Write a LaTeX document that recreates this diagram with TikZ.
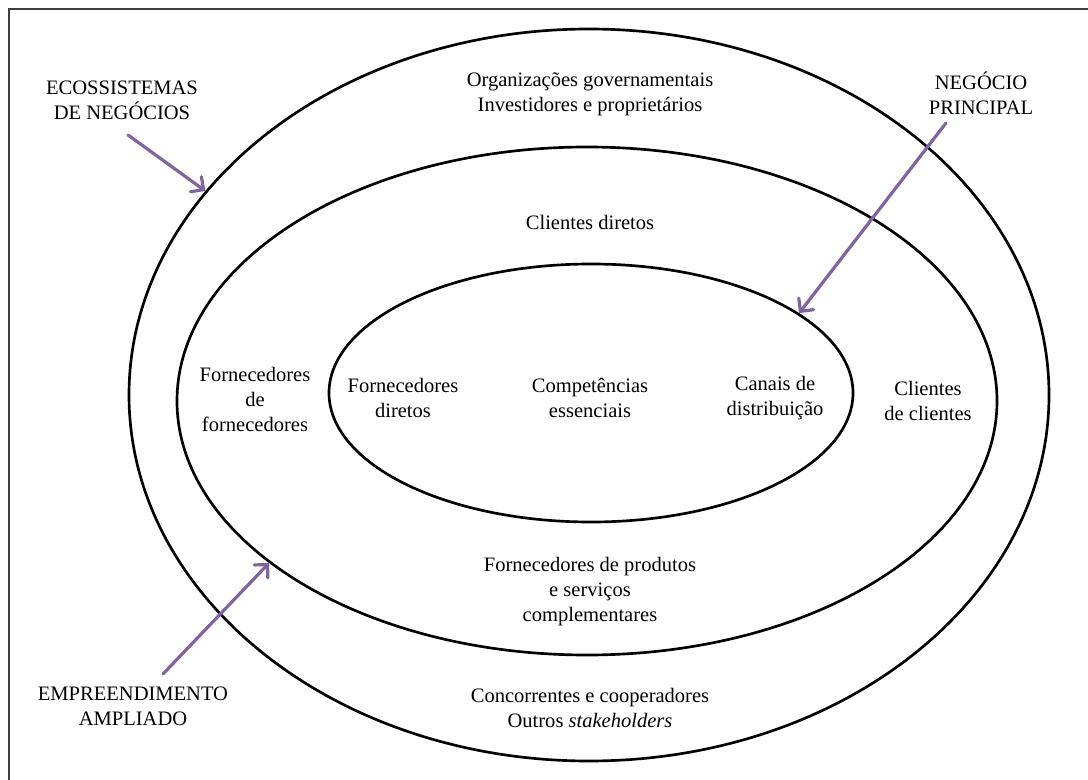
\documentclass[tikz,border=0pt]{standalone}
\usepackage{fontspec}
\setmainfont{Liberation Serif}
\usetikzlibrary{shapes.geometric,arrows.meta}
\definecolor{arrowpurple}{HTML}{8064A2}
\definecolor{framegray}{HTML}{3F3F3F}
\begin{document}
\begin{tikzpicture}[x=0.75pt,y=-0.75pt,
  ring/.style={ellipse,draw=black,line width=2pt,inner sep=0pt},
  lbl/.style={align=center,font=\fontsize{15.4}{18.75}\selectfont,inner sep=0pt},
  pointer/.style={draw=arrowpurple,line width=2.4pt,line cap=round,
    -{Straight Barb[length=7pt,width=14pt,line cap=round]}}]
\useasboundingbox (0,0) rectangle (1088,780);
% frame
\draw[framegray,line width=0.9pt] (9,780) -- (9,9) -- (1088,9);

% the three nested rings
\node[ring,minimum width=690pt,minimum height=549pt] (outer) at (589,395) {};
\node[ring,minimum width=615pt,minimum height=381pt] (middle) at (587,401) {};
\node[ring,minimum width=393pt,minimum height=193.5pt] (inner) at (591,393) {};

% texts inside the rings
\node[lbl] (gov) at (590,94) {Organizações governamentais\\Investidores e proprietários};
\node[lbl] (cdir) at (590,222) {Clientes diretos};
\node[lbl] (ffor) at (255,399) {Fornecedores\\de\\fornecedores};
\node[lbl] (fdir) at (403,398) {Fornecedores\\diretos};
\node[lbl] (comp) at (590,398) {Competências\\essenciais};
\node[lbl] (canais) at (775,398) {Canais de\\distribuição};
\node[lbl] (ccli) at (928,401) {Clientes\\de clientes};
\node[lbl] (fprod) at (590,592) {Fornecedores de produtos\\e serviços\\complementares};
\node[lbl] (conc) at (590,708) {Concorrentes e cooperadores\\Outros \textit{stakeholders}};

% side labels
\node[lbl] (eco) at (122,100) {ECOSSISTEMAS\\DE NEGÓCIOS};
\node[lbl] (neg) at (981,93) {NEGÓCIO\\PRINCIPAL};
\node[lbl] (emp) at (133,706) {EMPREENDIMENTO\\AMPLIADO};

% pointers from the side labels to the rings
\coordinate (ecoStart) at (128,135);
\coordinate (negStart) at (946,123);
\coordinate (empStart) at (163,674);
\draw[pointer] (ecoStart) -- (outer.152.6);
\draw[pointer] (negStart) -- (inner.21.7);
\draw[pointer] (empStart) -- (middle.207.9);
\end{tikzpicture}
\end{document}
